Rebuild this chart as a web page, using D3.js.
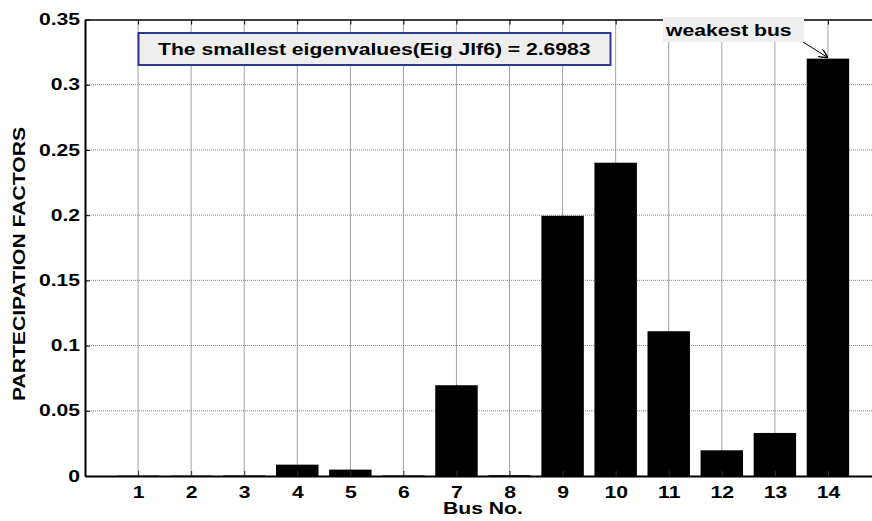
<!DOCTYPE html>
<html>
<head>
<meta charset="utf-8">
<script src="https://cdn.jsdelivr.net/npm/d3@7"></script>
<style>
  body { margin: 0; background: #fff; }
  svg text { font-family: "Liberation Sans", Arial, sans-serif; font-weight: bold; fill: #000; }
  .grid line { stroke: #a0a0a0; stroke-width: 1; }
  .grid-y line { stroke-dasharray: 1,1; stroke: #808080; }
</style>
</head>
<body>
<svg id="chart" width="872" height="521"></svg>
<script>
// bus numbers and participation factors
var busNo = [1, 2, 3, 4, 5, 6, 7, 8, 9, 10, 11, 12, 13, 14];
var partFactors = [0.0003, 0.0003, 0.0004, 0.0087, 0.0049, 0.0004, 0.0696, 0.0006, 0.1995, 0.2402, 0.1110, 0.0197, 0.0330, 0.3200];
var yTicks = [0, 0.05, 0.1, 0.15, 0.2, 0.25, 0.3, 0.35];
var yTickLabels = ["0", "0.05", "0.1", "0.15", "0.2", "0.25", "0.3", "0.35"];
var titleText = "The smallest eigenvalues(Eig Jlf6) = 2.6983";
var weakestLabel = "weakest bus";
var weakestBus = 14;

/** Class for the bar plot */
class BarPlot {
    constructor() {
        this.svg = d3.select("#chart");
        // plot box, right side runs past the window
        this.x = d3.scaleLinear().domain([0, 15]).range([85, 881]);
        this.y = d3.scaleLinear().domain([0, 0.35]).range([476, 19.5]);
        this.stretch = 1.32;
    }

    // make the text wider, the figure was scaled sideways
    widen(sel) {
        var k = this.stretch;
        sel.each(function() {
            var w = this.getComputedTextLength();
            d3.select(this).attr("textLength", w * k).attr("lengthAdjust", "spacingAndGlyphs");
        });
    }

    drawGrid() {
        var x = this.x, y = this.y;
        var g = this.svg.append("g").attr("class", "grid");
        g.selectAll("line.vx")
            .data(busNo)
            .enter()
            .append("line")
            .attr("class", "vx")
            .attr("x1", d => x(d)).attr("x2", d => x(d))
            .attr("y1", y(0)).attr("y2", y(0.35));
        var gy = this.svg.append("g").attr("class", "grid grid-y");
        gy.selectAll("line")
            .data(yTicks.slice(1, -1))
            .enter()
            .append("line")
            .attr("x1", x(0)).attr("x2", x(15))
            .attr("y1", d => y(d)).attr("y2", d => y(d));
    }

    drawBars() {
        var x = this.x, y = this.y;
        var bw = x(0.8) - x(0);
        this.svg.append("g")
            .selectAll("rect")
            .data(partFactors)
            .enter()
            .append("rect")
            .attr("x", (d, i) => x(busNo[i]) - bw / 2)
            .attr("width", bw)
            .attr("y", d => y(d))
            .attr("height", d => y(0) - y(d))
            .attr("fill", "#000");
    }

    drawAxes() {
        var x = this.x, y = this.y, svg = this.svg;

        var xAxis = d3.axisBottom(x).tickValues(busNo).tickSizeInner(-5).tickSizeOuter(0).tickPadding(12);
        var gx = svg.append("g").attr("transform", "translate(0," + y(0) + ")").call(xAxis);
        gx.select(".domain").attr("stroke-width", 2);
        gx.selectAll(".tick line").attr("stroke", "#333");
        gx.selectAll("text").attr("font-size", 16).attr("font-family", null).attr("dy", "0.6em");
        this.widen(gx.selectAll("text"));

        // ticks on the top edge
        var xTop = d3.axisTop(x).tickValues(busNo).tickSizeInner(-5).tickSizeOuter(0).tickFormat("");
        var gt = svg.append("g").attr("transform", "translate(0," + y(0.35) + ")").call(xTop);
        gt.select(".domain").attr("stroke-width", 1.5);

        var yAxis = d3.axisLeft(y).tickValues(yTicks)
            .tickFormat((d, i) => yTickLabels[i])
            .tickSizeInner(-5).tickSizeOuter(0).tickPadding(5);
        var gy = svg.append("g").attr("transform", "translate(" + x(0) + ",0)").call(yAxis);
        gy.select(".domain").attr("stroke-width", 2);
        gy.selectAll("text").attr("font-size", 16).attr("font-family", null);
        this.widen(gy.selectAll("text"));

        var xl = svg.append("text")
            .attr("x", 483).attr("y", 514)
            .attr("text-anchor", "middle")
            .attr("font-size", 16)
            .text("Bus No.");
        this.widen(xl);

        var yl = svg.append("text")
            .attr("transform", "translate(25,264) rotate(-90)")
            .attr("text-anchor", "middle")
            .attr("font-size", 16)
            .text("PARTECIPATION FACTORS");
        this.widen(yl);
    }

    drawNotes() {
        var x = this.x, y = this.y, svg = this.svg;

        // text box with the eigenvalue
        svg.append("rect")
            .attr("x", 138.5).attr("y", 33)
            .attr("width", 472).attr("height", 32)
            .attr("fill", "#eeeeee")
            .attr("stroke", "#2b3a8e")
            .attr("stroke-width", 2);
        var t = svg.append("text")
            .attr("x", 158).attr("y", 55)
            .attr("font-size", 16)
            .text(titleText);
        this.widen(t);

        // weakest bus label + arrow
        svg.append("rect")
            .attr("x", 663).attr("y", 17)
            .attr("width", 141).attr("height", 25)
            .attr("fill", "#eeeeee");
        var w = svg.append("text")
            .attr("x", 666).attr("y", 36)
            .attr("font-size", 16)
            .text(weakestLabel);
        this.widen(w);

        svg.append("defs").append("marker")
            .attr("id", "arrow")
            .attr("viewBox", "0 0 10 10")
            .attr("refX", 10).attr("refY", 5)
            .attr("markerWidth", 9).attr("markerHeight", 9)
            .attr("orient", "auto")
            .append("path")
            .attr("d", "M0,0 L10,5 L0,10")
            .attr("fill", "none")
            .attr("stroke", "#000")
            .attr("stroke-width", 1.5);
        svg.append("line")
            .attr("x1", 803).attr("y1", 42)
            .attr("x2", x(weakestBus)).attr("y2", y(partFactors[weakestBus - 1]) - 1)
            .attr("stroke", "#000")
            .attr("stroke-width", 1)
            .attr("marker-end", "url(#arrow)");
    }
}

var plot = new BarPlot();
plot.drawGrid();
plot.drawBars();
plot.drawAxes();
plot.drawNotes();
</script>
</body>
</html>
